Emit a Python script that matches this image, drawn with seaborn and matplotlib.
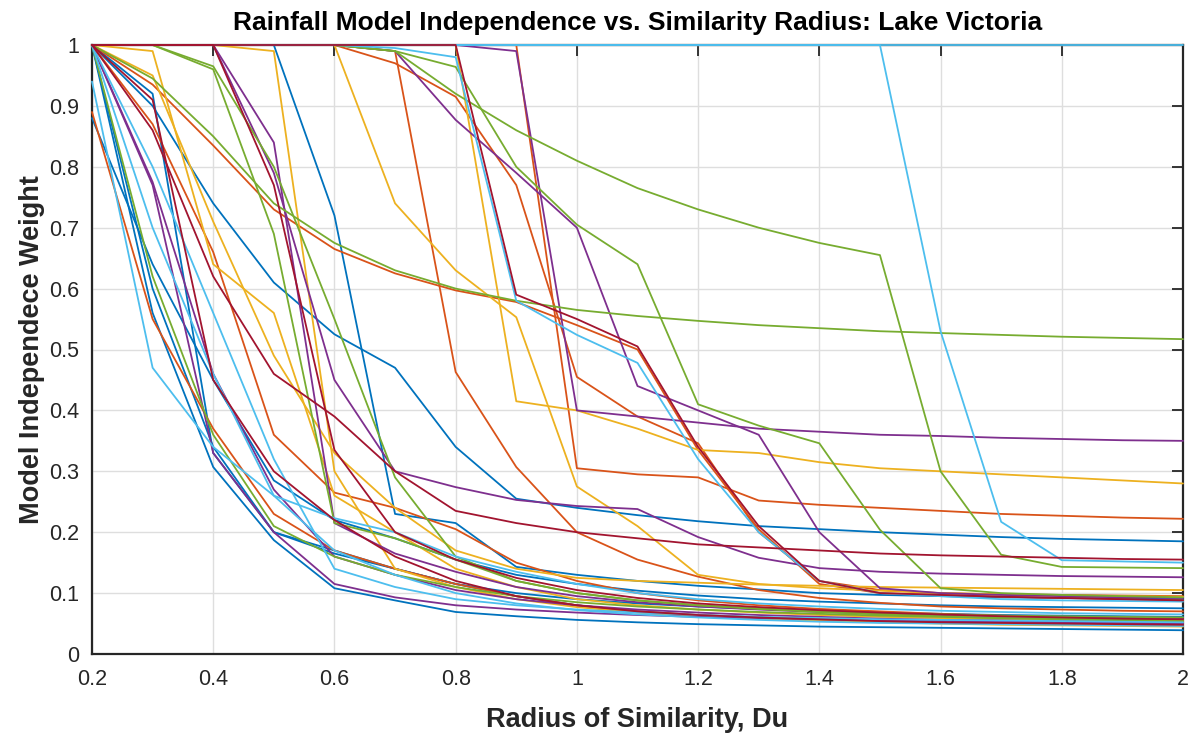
import numpy as np
import pandas as pd
import matplotlib
matplotlib.use("Agg")
import matplotlib.pyplot as plt
import seaborn as sns
from matplotlib.ticker import FuncFormatter

# ---------------- data ----------------
radius = [0.2, 0.3, 0.4, 0.5, 0.6, 0.7, 0.8, 0.9, 1.0, 1.1,
          1.2, 1.3, 1.4, 1.5, 1.6, 1.7, 1.8, 1.9, 2.0]

blue_models = [
    [1.00, 0.56, 0.307, 0.187, 0.108, 0.088, 0.069, 0.062, 0.056, 0.052, 0.049, 0.047, 0.045, 0.044, 0.043, 0.042, 0.041, 0.040, 0.039],
    [1.00, 0.92, 0.33, 0.20, 0.17, 0.14, 0.115, 0.095, 0.08, 0.07, 0.064, 0.06, 0.057, 0.055, 0.053, 0.052, 0.051, 0.05, 0.049],
    [1.00, 0.90, 0.74, 0.61, 0.525, 0.47, 0.34, 0.255, 0.24, 0.228, 0.218, 0.21, 0.205, 0.20, 0.196, 0.192, 0.189, 0.187, 0.185],
    [1.00, 1.00, 1.00, 1.00, 0.72, 0.23, 0.215, 0.143, 0.13, 0.12, 0.112, 0.106, 0.10, 0.097, 0.095, 0.093, 0.092, 0.091, 0.09],
    [0.88, 0.64, 0.45, 0.285, 0.22, 0.19, 0.155, 0.13, 0.115, 0.104, 0.096, 0.09, 0.086, 0.083, 0.08, 0.078, 0.077, 0.076, 0.075],
    [1.00, 0.60, 0.34, 0.20, 0.165, 0.14, 0.115, 0.10, 0.09, 0.083, 0.078, 0.074, 0.071, 0.068, 0.066, 0.064, 0.063, 0.062, 0.061],
]
orange_models = [
    [0.89, 0.55, 0.37, 0.23, 0.17, 0.14, 0.115, 0.095, 0.08, 0.07, 0.064, 0.06, 0.057, 0.055, 0.053, 0.052, 0.051, 0.05, 0.05],
    [1.00, 1.00, 1.00, 1.00, 1.00, 0.99, 0.463, 0.307, 0.20, 0.155, 0.127, 0.105, 0.092, 0.084, 0.078, 0.075, 0.073, 0.071, 0.07],
    [1.00, 0.935, 0.835, 0.73, 0.665, 0.625, 0.597, 0.578, 0.54, 0.50, 0.335, 0.205, 0.115, 0.10, 0.097, 0.094, 0.092, 0.09, 0.088],
    [1.00, 1.00, 1.00, 1.00, 1.00, 0.97, 0.915, 0.77, 0.455, 0.39, 0.346, 0.20, 0.12, 0.105, 0.10, 0.098, 0.097, 0.096, 0.095],
    [1.00, 1.00, 1.00, 1.00, 1.00, 1.00, 1.00, 1.00, 0.305, 0.295, 0.29, 0.252, 0.245, 0.24, 0.235, 0.23, 0.227, 0.224, 0.222],
    [1.00, 0.87, 0.66, 0.36, 0.265, 0.24, 0.205, 0.15, 0.12, 0.10, 0.088, 0.08, 0.074, 0.07, 0.066, 0.063, 0.06, 0.058, 0.056],
]
yellow_models = [
    [1.00, 1.00, 1.00, 1.00, 1.00, 0.74, 0.63, 0.553, 0.275, 0.21, 0.13, 0.115, 0.108, 0.104, 0.10, 0.098, 0.096, 0.095, 0.094],
    [1.00, 1.00, 1.00, 1.00, 1.00, 1.00, 1.00, 0.415, 0.40, 0.37, 0.335, 0.33, 0.315, 0.305, 0.30, 0.295, 0.29, 0.285, 0.28],
    [1.00, 0.99, 0.64, 0.56, 0.26, 0.20, 0.14, 0.11, 0.09, 0.08, 0.073, 0.068, 0.064, 0.061, 0.059, 0.057, 0.056, 0.055, 0.054],
    [1.00, 1.00, 1.00, 0.99, 0.30, 0.14, 0.11, 0.09, 0.077, 0.068, 0.062, 0.058, 0.055, 0.052, 0.05, 0.048, 0.047, 0.046, 0.045],
    [1.00, 0.95, 0.71, 0.49, 0.33, 0.24, 0.17, 0.14, 0.125, 0.12, 0.117, 0.114, 0.112, 0.11, 0.109, 0.108, 0.107, 0.106, 0.105],
]
purple_models = [
    [1.00, 1.00, 1.00, 1.00, 1.00, 0.99, 0.877, 0.79, 0.70, 0.44, 0.40, 0.36, 0.20, 0.108, 0.10, 0.097, 0.095, 0.093, 0.092],
    [1.00, 1.00, 1.00, 1.00, 1.00, 1.00, 1.00, 0.99, 0.40, 0.39, 0.38, 0.37, 0.365, 0.36, 0.358, 0.355, 0.353, 0.351, 0.35],
    [1.00, 1.00, 1.00, 0.84, 0.215, 0.165, 0.135, 0.11, 0.095, 0.085, 0.078, 0.073, 0.069, 0.066, 0.064, 0.062, 0.061, 0.06, 0.059],
    [1.00, 1.00, 1.00, 0.79, 0.45, 0.30, 0.274, 0.253, 0.243, 0.238, 0.192, 0.158, 0.141, 0.135, 0.132, 0.13, 0.128, 0.127, 0.126],
    [1.00, 0.77, 0.33, 0.20, 0.115, 0.093, 0.08, 0.073, 0.068, 0.064, 0.061, 0.059, 0.057, 0.055, 0.054, 0.053, 0.052, 0.051, 0.05],
    [1.00, 0.775, 0.46, 0.27, 0.16, 0.13, 0.105, 0.09, 0.08, 0.073, 0.068, 0.064, 0.061, 0.058, 0.056, 0.055, 0.054, 0.053, 0.052],
]
green_models = [
    [1.00, 1.00, 1.00, 1.00, 1.00, 0.99, 0.92, 0.86, 0.81, 0.765, 0.73, 0.70, 0.675, 0.655, 0.30, 0.163, 0.143, 0.142, 0.141],
    [1.00, 1.00, 1.00, 1.00, 1.00, 0.99, 0.964, 0.80, 0.705, 0.64, 0.41, 0.375, 0.346, 0.204, 0.108, 0.10, 0.097, 0.095, 0.093],
    [1.00, 0.945, 0.85, 0.74, 0.675, 0.63, 0.60, 0.58, 0.565, 0.555, 0.547, 0.54, 0.535, 0.53, 0.527, 0.524, 0.521, 0.519, 0.517],
    [1.00, 1.00, 0.96, 0.69, 0.215, 0.19, 0.155, 0.12, 0.10, 0.088, 0.08, 0.074, 0.069, 0.065, 0.062, 0.059, 0.057, 0.055, 0.053],
    [1.00, 1.00, 0.965, 0.80, 0.55, 0.29, 0.16, 0.12, 0.10, 0.088, 0.08, 0.075, 0.07, 0.067, 0.065, 0.063, 0.062, 0.061, 0.06],
    [1.00, 0.62, 0.36, 0.21, 0.16, 0.13, 0.11, 0.095, 0.085, 0.078, 0.073, 0.069, 0.066, 0.063, 0.061, 0.059, 0.058, 0.057, 0.056],
]
lightblue_models = [
    [1.00, 1.00, 1.00, 1.00, 1.00, 1.00, 1.00, 1.00, 1.00, 1.00, 1.00, 1.00, 1.00, 1.00, 1.00, 1.00, 1.00, 1.00, 1.00],
    [1.00, 1.00, 1.00, 1.00, 1.00, 1.00, 1.00, 1.00, 1.00, 1.00, 1.00, 1.00, 1.00, 1.00, 0.53, 0.217, 0.154, 0.152, 0.15],
    [1.00, 1.00, 1.00, 1.00, 1.00, 0.995, 0.98, 0.58, 0.524, 0.478, 0.32, 0.20, 0.12, 0.10, 0.095, 0.09, 0.088, 0.087, 0.086],
    [0.94, 0.47, 0.34, 0.26, 0.223, 0.20, 0.16, 0.135, 0.115, 0.10, 0.09, 0.083, 0.078, 0.074, 0.071, 0.069, 0.067, 0.066, 0.065],
    [1.00, 0.80, 0.56, 0.32, 0.14, 0.11, 0.09, 0.08, 0.073, 0.068, 0.064, 0.061, 0.059, 0.057, 0.056, 0.055, 0.054, 0.053, 0.052],
    [1.00, 0.70, 0.46, 0.26, 0.17, 0.13, 0.10, 0.083, 0.072, 0.065, 0.06, 0.056, 0.053, 0.051, 0.05, 0.049, 0.048, 0.047, 0.046],
]
darkred_models = [
    [1.00, 0.86, 0.62, 0.46, 0.39, 0.30, 0.235, 0.215, 0.20, 0.19, 0.18, 0.175, 0.17, 0.165, 0.162, 0.16, 0.158, 0.156, 0.155],
    [1.00, 1.00, 1.00, 0.77, 0.335, 0.20, 0.155, 0.125, 0.105, 0.092, 0.083, 0.077, 0.072, 0.068, 0.065, 0.062, 0.06, 0.058, 0.057],
    [1.00, 0.91, 0.45, 0.30, 0.22, 0.16, 0.12, 0.095, 0.08, 0.07, 0.064, 0.06, 0.057, 0.054, 0.052, 0.051, 0.05, 0.049, 0.048],
    [1.00, 1.00, 1.00, 1.00, 1.00, 1.00, 1.00, 0.59, 0.55, 0.505, 0.34, 0.21, 0.12, 0.10, 0.097, 0.094, 0.092, 0.09, 0.088],
]

title = "Rainfall Model Independence vs. Similarity Radius: Lake Victoria"
xlabel = "Radius of Similarity, Du"
ylabel = "Model Independece Weight"

# ---------------- style ----------------
group_colors = {
    "blue": "#0072BD", "orange": "#D95319", "yellow": "#EDB120",
    "purple": "#7E2F8E", "green": "#77AC30", "lightblue": "#4DBEEE",
    "darkred": "#A2142F",
}
groups = [("blue", blue_models), ("orange", orange_models), ("yellow", yellow_models),
          ("purple", purple_models), ("green", green_models),
          ("lightblue", lightblue_models), ("darkred", darkred_models)]

rows = []
palette = {}
for gname, models in groups:
    for i, vals in enumerate(models):
        name = f"{gname}{i}"
        palette[name] = group_colors[gname]
        for xv, yv in zip(radius, vals):
            rows.append({"model": name, "radius": xv, "weight": yv})
df = pd.DataFrame(rows)

sns.set_theme(style="white")
plt.rcParams["font.family"] = ["Liberation Sans", "DejaVu Sans"]

fig = plt.figure(figsize=(11.96, 7.34), dpi=100)
ax = fig.add_axes([92/1196, 1 - 654/734, (1183-92)/1196, (654-45)/734])

sns.lineplot(data=df, x="radius", y="weight", hue="model", palette=palette,
             estimator=None, legend=False, linewidth=1.3, ax=ax)
for ln in ax.lines:
    ln.set_clip_on(False)
    ln.set_zorder(3)

ax.set_xlim(0.2, 2.0)
ax.set_ylim(0, 1)
ax.set_xticks(np.round(np.arange(0.2, 2.001, 0.2), 1))
ax.set_yticks(np.round(np.arange(0, 1.001, 0.1), 1))
fmt = FuncFormatter(lambda v, p: f"{round(v, 2):g}")
ax.xaxis.set_major_formatter(fmt)
ax.yaxis.set_major_formatter(fmt)

ax.grid(True, color="#dedede", linewidth=1.0)
ax.set_axisbelow(True)
ax.tick_params(direction="in", length=8, width=1.3, top=True, right=True,
               labelsize=15.5, colors="#262626")
ax.tick_params(axis="x", pad=11)
ax.tick_params(axis="y", pad=9)
for s in ax.spines.values():
    s.set_color("#262626")
    s.set_linewidth(1.6)
    s.set_zorder(2.5)

ax.set_title(title, fontsize=19, fontweight="bold", color="#000000", pad=11)
ax.set_xlabel(xlabel, fontsize=19.5, fontweight="bold", color="#262626", labelpad=12)
ax.set_ylabel(ylabel, fontsize=19.5, fontweight="bold", color="#262626", labelpad=3)

fig.savefig("out.png", dpi=100)
